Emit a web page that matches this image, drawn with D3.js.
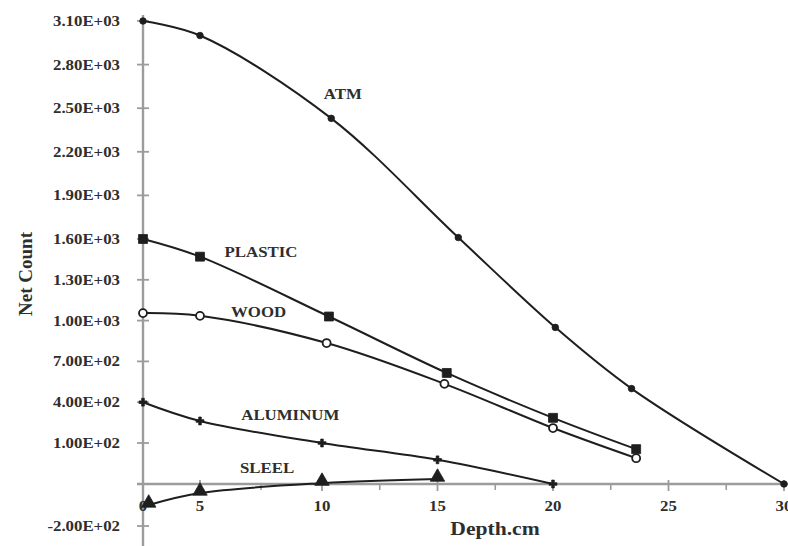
<!DOCTYPE html>
<html>
<head>
<meta charset="utf-8">
<script src="https://cdn.jsdelivr.net/npm/d3@7"></script>
<style>
  html, body { margin: 0; padding: 0; background: #fff; }
  svg { display: block; }
  text { font-family: "Liberation Serif", "DejaVu Serif", serif; font-weight: bold; fill: #2e2e2e; }
</style>
</head>
<body>
<svg id="chart" width="788" height="546"></svg>
<script>
// Depth (cm) vs. net count for each shielding material
const depthTicks = [0, 5, 10, 15, 20, 25, 30];
const depthMinorTicks = [2.5, 7.5, 12.5, 17.5, 22.5, 27.5];
const countTicks = [3100, 2800, 2500, 2200, 1900, 1600, 1300, 1000, 700, 400, 100, -200];
const countTickLabels = ["3.10E+03", "2.80E+03", "2.50E+03", "2.20E+03", "1.90E+03", "1.60E+03",
                         "1.30E+03", "1.00E+03", "7.00E+02", "4.00E+02", "1.00E+02", "-2.00E+02"];

const seriesNames = ["ATM", "PLASTIC", "WOOD", "ALUMINUM", "SLEEL"];

const atmDepth = [0, 5, 10.4, 15.9, 20.1, 23.4, 30];
const atmCount = [3100, 3000, 2430, 1610, 950, 500, 0];

const plasticDepth = [0, 5, 10.3, 15.4, 20, 23.6];
const plasticCount = [1600, 1470, 1030, 615, 285, 85];

const woodDepth = [0, 5, 10.2, 15.3, 20, 23.6];
const woodCount = [1055, 1035, 835, 535, 210, 63];

const aluminumDepth = [0, 5, 10, 15, 20];
const aluminumCount = [400, 262, 100, 59, 0];

const steelDepth = [0.5, 5, 10, 15];
const steelCount = [-100, -43, 2, 12];

// where each series name is written, in depth / count units
const labelDepth = [10.9, 7.5, 7.4, 8.7, 7.75];
const labelCount = [2600, 1505, 1063, 306, 39];

const svg = d3.select("#chart");

// The axes of this plot are not uniformly spaced, so both scales are polylinear.
const x = d3.scaleLinear().domain([0, 5, 10, 30]).range([143, 200, 322, 784]);
const y = d3.scaleLinear().domain([-200, 0, 100, 1600, 3100]).range([526, 484, 443, 239, 21]);

const axisColor = "#9c9c9c";
const lineColor = "#1e1e1e";
const TEXT_STRETCH = 1.2;

function stretch(sel, k) {
  sel.each(function () {
    const w = this.getComputedTextLength();
    this.setAttribute("textLength", w * k);
    this.setAttribute("lengthAdjust", "spacingAndGlyphs");
  });
}

// ---- axes ----
const axes = svg.append("g");
// vertical axis
axes.append("line")
  .attr("x1", x(0)).attr("x2", x(0))
  .attr("y1", 15).attr("y2", 546)
  .attr("stroke", axisColor).attr("stroke-width", 2.4);
// horizontal axis at zero count
axes.append("line")
  .attr("x1", x(0) - 6).attr("x2", 788)
  .attr("y1", y(0)).attr("y2", y(0))
  .attr("stroke", axisColor).attr("stroke-width", 2.4);

// count ticks and labels
axes.selectAll(".ytick").data(countTicks).join("line")
  .attr("class", "ytick")
  .attr("x1", x(0) - 6).attr("x2", x(0) + 6)
  .attr("y1", d => y(d)).attr("y2", d => y(d))
  .attr("stroke", axisColor).attr("stroke-width", 1.8);

axes.selectAll(".ylab").data(countTicks).join("text")
  .attr("class", "ylab")
  .attr("x", 120)
  .attr("y", d => y(d))
  .attr("dy", "0.35em")
  .attr("text-anchor", "end")
  .attr("font-size", 14)
  .text((d, i) => countTickLabels[i])
  .call(stretch, TEXT_STRETCH);

// depth ticks and labels
axes.selectAll(".xtick").data(depthTicks.slice(1)).join("line")
  .attr("class", "xtick")
  .attr("x1", d => x(d)).attr("x2", d => x(d))
  .attr("y1", y(0) - 4).attr("y2", y(0) + 7)
  .attr("stroke", axisColor).attr("stroke-width", 1.8);
axes.selectAll(".xminor").data(depthMinorTicks.slice(1)).join("line")
  .attr("class", "xminor")
  .attr("x1", d => x(d)).attr("x2", d => x(d))
  .attr("y1", y(0)).attr("y2", y(0) + 6)
  .attr("stroke", axisColor).attr("stroke-width", 1.6);

axes.selectAll(".xlab").data(depthTicks).join("text")
  .attr("class", "xlab")
  .attr("x", d => x(d))
  .attr("y", 511)
  .attr("text-anchor", "middle")
  .attr("font-size", 14)
  .text(d => d)
  .call(stretch, TEXT_STRETCH);

// axis titles
svg.append("text")
  .attr("x", 495).attr("y", 535)
  .attr("text-anchor", "middle")
  .attr("font-size", 18)
  .text("Depth.cm")
  .call(stretch, TEXT_STRETCH);

svg.append("text")
  .attr("transform", "translate(32,274) rotate(-90)")
  .attr("text-anchor", "middle")
  .attr("font-size", 19)
  .text("Net Count");

// ---- series ----
const series = [
  { depth: atmDepth, count: atmCount, marker: "dot" },
  { depth: plasticDepth, count: plasticCount, marker: "square" },
  { depth: woodDepth, count: woodCount, marker: "ring" },
  { depth: aluminumDepth, count: aluminumCount, marker: "cross" },
  { depth: steelDepth, count: steelCount, marker: "triangle" }
].map((s, i) => ({
  name: seriesNames[i],
  marker: s.marker,
  points: s.depth.map((d, j) => ({ depth: d, count: s.count[j] })),
  labelAt: { depth: labelDepth[i], count: labelCount[i] }
}));

const line = d3.line()
  .x(d => x(d.depth))
  .y(d => y(d.count))
  .curve(d3.curveCatmullRom.alpha(0.5));

const plot = svg.append("g");

plot.selectAll(".series").data(series).join("path")
  .attr("class", "series")
  .attr("d", d => line(d.points))
  .attr("fill", "none")
  .attr("stroke", lineColor)
  .attr("stroke-width", 2);

const symbolFor = {
  dot: d3.symbol(d3.symbolCircle, 34),
  square: d3.symbol(d3.symbolSquare, 80),
  ring: d3.symbol(d3.symbolCircle, 50),
  cross: d3.symbol(d3.symbolCross, 34),
  triangle: d3.symbol(d3.symbolTriangle, 90)
};

series.forEach(s => {
  plot.append("g").selectAll("path").data(s.points).join("path")
    .attr("transform", d => `translate(${x(d.depth)},${y(d.count) + (s.marker === "triangle" ? -2 : 0)})`)
    .attr("d", symbolFor[s.marker]())
    .attr("fill", s.marker === "ring" ? "#fff" : lineColor)
    .attr("stroke", lineColor)
    .attr("stroke-width", s.marker === "ring" ? 1.8 : 0.8);
});

// series names
plot.selectAll(".slabel").data(series).join("text")
  .attr("class", "slabel")
  .attr("x", d => x(d.labelAt.depth))
  .attr("y", d => y(d.labelAt.count))
  .attr("dy", "0.35em")
  .attr("text-anchor", "middle")
  .attr("font-size", 14)
  .attr("fill", "#333")
  .text(d => d.name)
  .call(stretch, TEXT_STRETCH);
</script>
</body>
</html>
